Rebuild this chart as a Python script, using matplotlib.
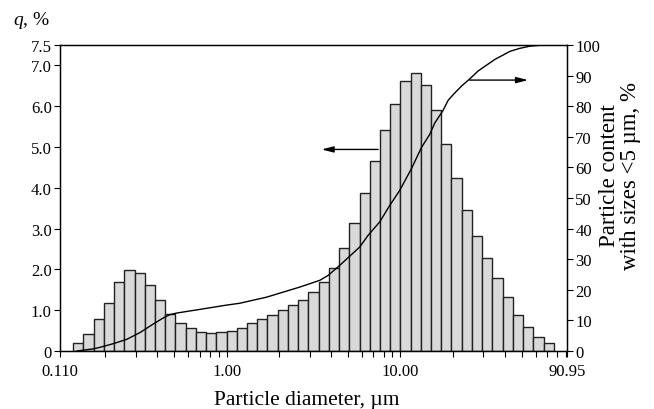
import matplotlib
matplotlib.use("Agg")
import matplotlib.pyplot as plt
from matplotlib.ticker import FixedLocator, NullFormatter

plt.rcParams['font.family'] = ['Liberation Serif', 'DejaVu Serif']
plt.rcParams['mathtext.fontset'] = 'custom'
plt.rcParams['mathtext.it'] = 'Liberation Serif:italic'
plt.rcParams['mathtext.rm'] = 'Liberation Serif'

# bin edges (um), 47 bins
bin_edges = [0.1311, 0.1501, 0.1719, 0.1968, 0.2254, 0.2581, 0.2955, 0.3384, 0.3875,
             0.4437, 0.5081, 0.5818, 0.6662, 0.7629, 0.8736, 1.0, 1.1451, 1.3112,
             1.5014, 1.7193, 1.9687, 2.2543, 2.5813, 2.9557, 3.3845, 3.8755, 4.4377,
             5.0815, 5.8187, 6.6628, 7.6294, 8.7362, 10.0, 11.451, 13.112, 15.014,
             17.193, 19.687, 22.543, 25.813, 29.557, 33.845, 38.755, 44.377, 50.815,
             58.187, 66.628, 76.294]
# frequency q, %
q_values = [0.19, 0.42, 0.78, 1.18, 1.68, 1.98, 1.92, 1.61, 1.26, 0.91,
            0.68, 0.56, 0.47, 0.45, 0.47, 0.50, 0.57, 0.68, 0.78, 0.89,
            1.00, 1.12, 1.24, 1.44, 1.68, 2.03, 2.52, 3.14, 3.87, 4.65,
            5.42, 6.05, 6.61, 6.81, 6.51, 5.91, 5.07, 4.23, 3.46, 2.81,
            2.27, 1.78, 1.32, 0.89, 0.58, 0.34, 0.19]
# cumulative curve
cum_d = [0.138, 0.171, 0.187, 0.223, 0.266, 0.317, 0.378, 0.432, 0.472, 0.516, 0.702,
         1.00, 1.19, 1.70, 2.64, 3.44, 3.84, 4.48, 5.84, 6.52, 7.61, 8.69, 9.92, 11.58,
         13.22, 14.76, 15.77, 17.6, 18.81, 20.3, 22.5, 25.06, 28.0, 31.3, 35.0, 38.96,
         42.6, 48.6, 55.5, 63.0, 72.3]
cum_pct = [0, 0.7, 1.2, 2.4, 3.8, 6.0, 8.8, 10.8, 11.9, 12.4, 13.6,
           15.0, 15.6, 17.6, 20.9, 23.1, 24.7, 28.0, 34.0, 37.8, 42.2, 47.6, 52.5, 59.6,
           66.5, 70.8, 74.5, 78.6, 81.9, 84.0, 86.6, 88.9, 91.5, 93.4, 95.3, 96.7,
           97.9, 98.9, 99.6, 99.9, 100]

x_major = [0.11, 1.0, 10.0, 90.95]
x_major_labels = ['0.110', '1.00', '10.00', '90.95']
x_minor = [0.2, 0.3, 0.4, 0.5, 0.6, 0.7, 0.8, 0.9, 2, 3, 4, 5, 6, 7, 8, 9,
           20, 30, 40, 50, 60, 70, 80, 90]
y_left_ticks = [0, 1, 2, 3, 4, 5, 6, 7, 7.5]
y_left_labels = ['0', '1.0', '2.0', '3.0', '4.0', '5.0', '6.0', '7.0', '7.5']
y_right_ticks = [0, 10, 20, 30, 40, 50, 60, 70, 80, 90, 100]

fig = plt.figure(figsize=(6.54, 4.10), dpi=100)
ax = fig.add_axes([60/654, 58/410, 507/654, 306/410])

lefts = bin_edges[:-1]
widths = [b - a for a, b in zip(bin_edges[:-1], bin_edges[1:])]
ax.bar(lefts, q_values, width=widths, align='edge', color='#d9d9d9',
       edgecolor='#222222', linewidth=1.0, zorder=2)

ax.set_xscale('log')
ax.set_xlim(0.11, 90.95)
ax.set_ylim(0, 7.5)
ax.xaxis.set_major_locator(FixedLocator(x_major))
ax.set_xticklabels(x_major_labels)
ax.xaxis.set_minor_locator(FixedLocator(x_minor))
ax.xaxis.set_minor_formatter(NullFormatter())
ax.set_yticks(y_left_ticks)
ax.set_yticklabels(y_left_labels)
ax.tick_params(axis='both', which='both', direction='out', length=4, width=0.8,
               labelsize=12, colors='black')
ax.tick_params(axis='x', which='major', pad=5)
ax.tick_params(axis='y', pad=2)
for s in ax.spines.values():
    s.set_linewidth(1.0)

ax2 = ax.twinx()
ax2.set_ylim(0, 100)
ax2.set_yticks(y_right_ticks)
ax2.tick_params(axis='y', direction='out', length=4, width=0.8, labelsize=12, pad=2)
ax2.plot(cum_d, cum_pct, color='black', linewidth=1.0, zorder=3)

ax.annotate('', xy=(3.52, 4.94), xytext=(7.45, 4.94),
            arrowprops=dict(arrowstyle='-|>,head_length=0.7,head_width=0.18',
                            color='black', lw=1.0, shrinkA=0, shrinkB=0))
ax.annotate('', xy=(54.3, 6.64), xytext=(25.06, 6.64),
            arrowprops=dict(arrowstyle='-|>,head_length=0.7,head_width=0.18',
                            color='black', lw=1.0, shrinkA=0, shrinkB=0))

fig.text(13/654, (410-25)/410, '$q$, %', fontsize=14, ha='left', va='baseline')
fig.text(306.7/654, 5/410, 'Particle diameter, \u00b5m', fontsize=15.5,
         ha='center', va='baseline')
fig.text(620/654, (410-176)/410, 'Particle content\nwith sizes <5 \u00b5m, %',
         fontsize=16.5, rotation=90, ha='center', va='center',
         multialignment='center', linespacing=1.0)

fig.savefig('out.png', dpi=100)
